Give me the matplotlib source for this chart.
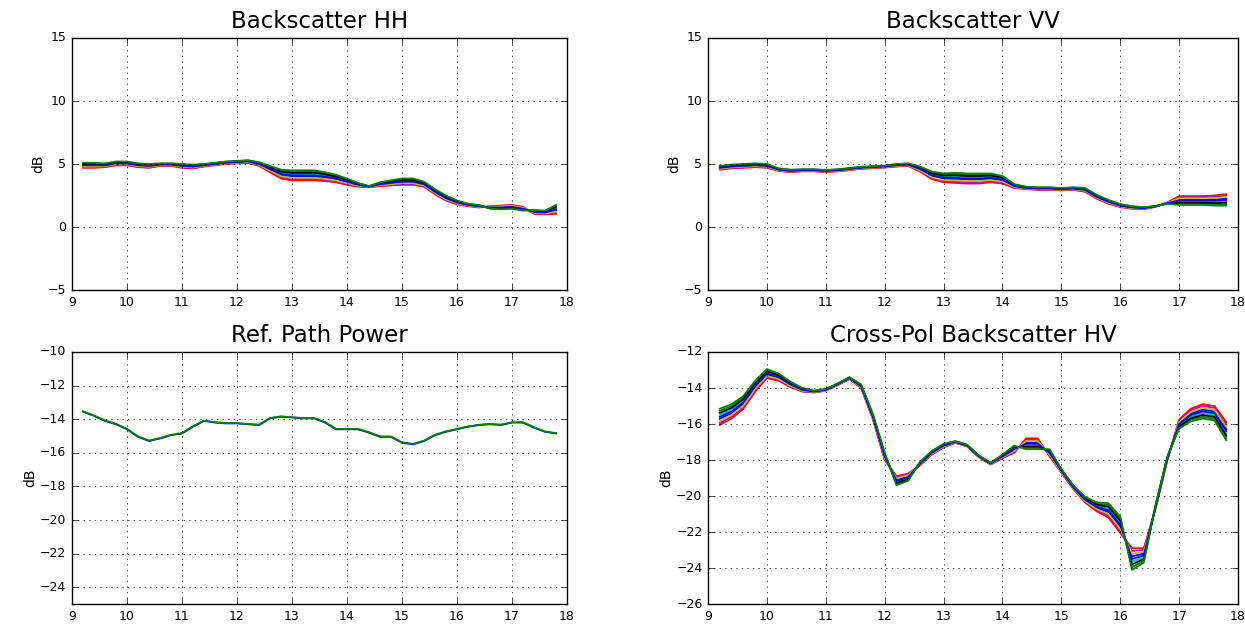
import matplotlib
matplotlib.use('Agg')
import matplotlib.pyplot as plt

# frequency axis (GHz)
freq = [9.2, 9.4, 9.6, 9.8, 10.0, 10.2, 10.4, 10.6, 10.8, 11.0,
        11.2, 11.4, 11.6, 11.8, 12.0, 12.2, 12.4, 12.6, 12.8, 13.0,
        13.2, 13.4, 13.6, 13.8, 14.0, 14.2, 14.4, 14.6, 14.8, 15.0,
        15.2, 15.4, 15.6, 15.8, 16.0, 16.2, 16.4, 16.6, 16.8, 17.0,
        17.2, 17.4, 17.6, 17.8]

# Backscatter HH (dB), one list per measurement
hh = [
    [4.85, 4.85, 4.86, 5.01, 5.01, 4.86, 4.81, 4.93, 4.93, 4.81, 4.76, 4.88, 4.98, 5.08, 5.13, 5.18, 4.96, 4.54, 4.11, 4.0,
     4.0, 4.0, 3.91, 3.78, 3.54, 3.31, 3.19, 3.36, 3.45, 3.54, 3.54, 3.35, 2.75, 2.25, 1.91, 1.73, 1.63, 1.58, 1.59, 1.64,
     1.49, 1.16, 1.11, 1.31],
    [5.05, 5.05, 5.01, 5.16, 5.16, 5.01, 4.96, 5.03, 5.03, 4.96, 4.91, 4.98, 5.08, 5.18, 5.23, 5.28, 5.11, 4.79, 4.46, 4.4,
     4.4, 4.4, 4.26, 4.08, 3.79, 3.46, 3.24, 3.51, 3.65, 3.79, 3.79, 3.55, 2.95, 2.45, 2.06, 1.83, 1.73, 1.48, 1.44, 1.49,
     1.34, 1.31, 1.26, 1.66],
    [4.7, 4.7, 4.75, 4.9, 4.9, 4.75, 4.7, 4.85, 4.85, 4.7, 4.65, 4.8, 4.9, 5.0, 5.05, 5.1, 4.85, 4.35, 3.85, 3.7,
     3.7, 3.7, 3.65, 3.55, 3.35, 3.2, 3.15, 3.25, 3.3, 3.35, 3.35, 3.2, 2.6, 2.1, 1.8, 1.65, 1.55, 1.65, 1.7, 1.75,
     1.6, 1.05, 1.0, 1.05],
    [4.95, 4.95, 4.94, 5.09, 5.09, 4.94, 4.89, 4.98, 4.98, 4.89, 4.84, 4.93, 5.03, 5.13, 5.18, 5.23, 5.04, 4.66, 4.29, 4.2,
     4.2, 4.2, 4.09, 3.93, 3.66, 3.39, 3.21, 3.44, 3.55, 3.66, 3.66, 3.45, 2.85, 2.35, 1.99, 1.78, 1.68, 1.53, 1.51, 1.56,
     1.41, 1.24, 1.19, 1.49],
    [4.75, 4.75, 4.79, 4.94, 4.94, 4.79, 4.74, 4.88, 4.88, 4.74, 4.69, 4.83, 4.93, 5.03, 5.08, 5.13, 4.89, 4.41, 3.94, 3.8,
     3.8, 3.8, 3.74, 3.63, 3.41, 3.24, 3.16, 3.29, 3.35, 3.41, 3.41, 3.25, 2.65, 2.15, 1.84, 1.68, 1.58, 1.63, 1.66, 1.71,
     1.56, 1.09, 1.04, 1.14],
    [4.8, 4.8, 4.83, 4.98, 4.98, 4.83, 4.78, 4.9, 4.9, 4.78, 4.73, 4.85, 4.95, 5.05, 5.1, 5.15, 4.93, 4.48, 4.03, 3.9,
     3.9, 3.9, 3.83, 3.7, 3.48, 3.28, 3.18, 3.33, 3.4, 3.48, 3.48, 3.3, 2.7, 2.2, 1.88, 1.7, 1.6, 1.6, 1.63, 1.68,
     1.53, 1.13, 1.08, 1.23],
    [5.0, 5.0, 4.98, 5.13, 5.13, 4.98, 4.93, 5.0, 5.0, 4.93, 4.88, 4.95, 5.05, 5.15, 5.2, 5.25, 5.08, 4.73, 4.38, 4.3,
     4.3, 4.3, 4.18, 4.0, 3.73, 3.43, 3.23, 3.48, 3.6, 3.73, 3.73, 3.5, 2.9, 2.4, 2.03, 1.8, 1.7, 1.5, 1.48, 1.53,
     1.38, 1.28, 1.23, 1.58],
    [4.9, 4.9, 4.9, 5.05, 5.05, 4.9, 4.85, 4.95, 4.95, 4.85, 4.8, 4.9, 5.0, 5.1, 5.15, 5.2, 5.0, 4.6, 4.2, 4.1,
     4.1, 4.1, 4.0, 3.85, 3.6, 3.35, 3.2, 3.4, 3.5, 3.6, 3.6, 3.4, 2.8, 2.3, 1.95, 1.75, 1.65, 1.55, 1.55, 1.6,
     1.45, 1.2, 1.15, 1.4],
    [5.1, 5.1, 5.05, 5.2, 5.2, 5.05, 5.0, 5.05, 5.05, 5.0, 4.95, 5.0, 5.1, 5.2, 5.25, 5.3, 5.15, 4.85, 4.55, 4.5,
     4.5, 4.5, 4.35, 4.15, 3.85, 3.5, 3.25, 3.55, 3.7, 3.85, 3.85, 3.6, 3.0, 2.5, 2.1, 1.85, 1.75, 1.45, 1.4, 1.45,
     1.3, 1.35, 1.3, 1.75],
]

# Backscatter VV (dB)
vv = [
    [4.66, 4.76, 4.81, 4.86, 4.81, 4.53, 4.43, 4.48, 4.48, 4.43, 4.48, 4.58, 4.68, 4.73, 4.78, 4.88, 4.93, 4.55, 4.03, 3.81,
     3.8, 3.75, 3.75, 3.81, 3.68, 3.21, 3.08, 3.03, 3.03, 2.98, 3.03, 2.91, 2.36, 1.96, 1.67, 1.53, 1.48, 1.63, 1.91, 2.19,
     2.19, 2.19, 2.2, 2.26],
    [4.81, 4.91, 4.96, 5.01, 4.96, 4.63, 4.53, 4.56, 4.56, 4.51, 4.56, 4.66, 4.76, 4.81, 4.86, 4.98, 5.03, 4.75, 4.33, 4.16,
     4.2, 4.15, 4.15, 4.16, 3.98, 3.36, 3.18, 3.13, 3.13, 3.08, 3.13, 3.06, 2.51, 2.11, 1.79, 1.63, 1.56, 1.66, 1.86, 1.84,
     1.84, 1.84, 1.8, 1.81],
    [4.55, 4.65, 4.7, 4.75, 4.7, 4.45, 4.35, 4.42, 4.42, 4.37, 4.42, 4.52, 4.62, 4.67, 4.72, 4.8, 4.85, 4.4, 3.8, 3.55,
     3.5, 3.45, 3.45, 3.55, 3.45, 3.1, 3.0, 2.95, 2.95, 2.9, 2.95, 2.8, 2.25, 1.85, 1.58, 1.45, 1.42, 1.6, 1.95, 2.45,
     2.45, 2.45, 2.5, 2.6],
    [4.74, 4.84, 4.89, 4.94, 4.89, 4.58, 4.48, 4.52, 4.52, 4.47, 4.52, 4.62, 4.72, 4.77, 4.82, 4.93, 4.98, 4.65, 4.18, 3.99,
     4.0, 3.95, 3.95, 3.99, 3.83, 3.29, 3.13, 3.08, 3.08, 3.03, 3.08, 2.99, 2.44, 2.04, 1.73, 1.58, 1.52, 1.65, 1.9, 2.01,
     2.01, 2.01, 2.0, 2.04],
    [4.59, 4.69, 4.74, 4.79, 4.74, 4.48, 4.38, 4.44, 4.44, 4.39, 4.44, 4.54, 4.64, 4.69, 4.74, 4.83, 4.88, 4.45, 3.88, 3.64,
     3.6, 3.55, 3.55, 3.64, 3.53, 3.14, 3.03, 2.98, 2.98, 2.93, 2.98, 2.84, 2.29, 1.89, 1.61, 1.48, 1.44, 1.62, 1.93, 2.36,
     2.36, 2.36, 2.4, 2.49],
    [4.63, 4.73, 4.78, 4.83, 4.78, 4.5, 4.4, 4.46, 4.46, 4.41, 4.46, 4.56, 4.66, 4.71, 4.76, 4.85, 4.9, 4.5, 3.95, 3.73,
     3.7, 3.65, 3.65, 3.73, 3.6, 3.18, 3.05, 3.0, 3.0, 2.95, 3.0, 2.88, 2.33, 1.93, 1.64, 1.5, 1.46, 1.63, 1.92, 2.28,
     2.28, 2.28, 2.3, 2.38],
    [4.78, 4.88, 4.93, 4.98, 4.93, 4.6, 4.5, 4.54, 4.54, 4.49, 4.54, 4.64, 4.74, 4.79, 4.84, 4.95, 5.0, 4.7, 4.25, 4.08,
     4.1, 4.05, 4.05, 4.08, 3.9, 3.33, 3.15, 3.1, 3.1, 3.05, 3.1, 3.03, 2.48, 2.08, 1.76, 1.6, 1.54, 1.65, 1.88, 1.93,
     1.93, 1.93, 1.9, 1.93],
    [4.7, 4.8, 4.85, 4.9, 4.85, 4.55, 4.45, 4.5, 4.5, 4.45, 4.5, 4.6, 4.7, 4.75, 4.8, 4.9, 4.95, 4.6, 4.1, 3.9,
     3.9, 3.85, 3.85, 3.9, 3.75, 3.25, 3.1, 3.05, 3.05, 3.0, 3.05, 2.95, 2.4, 2.0, 1.7, 1.55, 1.5, 1.64, 1.9, 2.1,
     2.1, 2.1, 2.1, 2.15],
    [4.85, 4.95, 5.0, 5.05, 5.0, 4.65, 4.55, 4.58, 4.58, 4.53, 4.58, 4.68, 4.78, 4.83, 4.88, 5.0, 5.05, 4.8, 4.4, 4.25,
     4.3, 4.25, 4.25, 4.25, 4.05, 3.4, 3.2, 3.15, 3.15, 3.1, 3.15, 3.1, 2.55, 2.15, 1.82, 1.65, 1.58, 1.66, 1.84, 1.75,
     1.75, 1.75, 1.7, 1.7],
]

# Ref. path power (dB)
ref = [
    [-13.55, -13.8, -14.1, -14.3, -14.6, -15.05, -15.3, -15.15, -14.95, -14.85, -14.45, -14.1, -14.2, -14.25, -14.25,
     -14.3, -14.35, -13.95, -13.85, -13.9, -13.95, -13.95, -14.2, -14.6, -14.6, -14.6, -14.8, -15.05, -15.05, -15.4,
     -15.5, -15.3, -14.95, -14.75, -14.6, -14.45, -14.35, -14.3, -14.35, -14.2, -14.2, -14.5, -14.75, -14.85],
    [-13.53, -13.78, -14.07, -14.28, -14.57, -15.02, -15.27, -15.12, -14.93, -14.82, -14.42, -14.08, -14.18, -14.22, -14.23,
     -14.28, -14.32, -13.93, -13.83, -13.88, -13.93, -13.93, -14.17, -14.57, -14.58, -14.57, -14.77, -15.02, -15.03, -15.37,
     -15.47, -15.28, -14.93, -14.72, -14.58, -14.43, -14.33, -14.28, -14.32, -14.18, -14.18, -14.47, -14.73, -14.83],
]

# Cross-pol backscatter HV (dB)
hv = [
    [-15.71, -15.4, -14.89, -13.98, -13.26, -13.45, -13.84, -14.13, -14.21, -14.11, -13.81, -13.46, -13.93, -15.64, -17.85,
     -19.09, -18.9, -18.23, -17.63, -17.23, -17.01, -17.21, -17.81, -18.21, -17.83, -17.45, -17.03, -17.03, -17.65, -18.63,
     -19.53, -20.24, -20.66, -20.9, -21.71, -23.35, -23.2, -20.63, -17.93, -15.94, -15.41, -15.2, -15.3, -16.28],
    [-15.26, -15.0, -14.54, -13.68, -13.01, -13.25, -13.69, -14.03, -14.16, -14.06, -13.76, -13.41, -13.83, -15.49, -17.65,
     -19.34, -19.1, -18.13, -17.53, -17.13, -16.96, -17.16, -17.76, -18.16, -17.73, -17.25, -17.33, -17.33, -17.45, -18.53,
     -19.43, -20.09, -20.41, -20.5, -21.26, -23.95, -23.6, -20.53, -17.83, -16.19, -15.76, -15.6, -15.7, -16.78],
    [-16.05, -15.7, -15.15, -14.2, -13.45, -13.6, -13.95, -14.2, -14.25, -14.15, -13.85, -13.5, -14.0, -15.75, -18.0,
     -18.9, -18.75, -18.3, -17.7, -17.3, -17.05, -17.25, -17.85, -18.25, -17.9, -17.6, -16.8, -16.8, -17.8, -18.7,
     -19.6, -20.35, -20.85, -21.2, -22.05, -22.9, -22.9, -20.7, -18.0, -15.75, -15.15, -14.9, -15.0, -15.9],
    [-15.49, -15.2, -14.71, -13.83, -13.14, -13.35, -13.76, -14.08, -14.19, -14.09, -13.79, -13.44, -13.88, -15.56, -17.75,
     -19.21, -19.0, -18.18, -17.58, -17.18, -16.99, -17.19, -17.79, -18.19, -17.78, -17.35, -17.18, -17.18, -17.55, -18.58,
     -19.48, -20.16, -20.54, -20.7, -21.49, -23.65, -23.4, -20.58, -17.88, -16.06, -15.59, -15.4, -15.5, -16.53],
    [-15.94, -15.6, -15.06, -14.13, -13.39, -13.55, -13.91, -14.18, -14.24, -14.14, -13.84, -13.49, -13.98, -15.71, -17.95,
     -18.96, -18.8, -18.28, -17.68, -17.28, -17.04, -17.24, -17.84, -18.24, -17.88, -17.55, -16.88, -16.88, -17.75, -18.68,
     -19.58, -20.31, -20.79, -21.1, -21.94, -23.05, -23.0, -20.68, -17.98, -15.81, -15.24, -15.0, -15.1, -16.03],
    [-15.83, -15.5, -14.98, -14.05, -13.33, -13.5, -13.88, -14.15, -14.23, -14.13, -13.83, -13.48, -13.95, -15.68, -17.9,
     -19.03, -18.85, -18.25, -17.65, -17.25, -17.03, -17.23, -17.83, -18.23, -17.85, -17.5, -16.95, -16.95, -17.7, -18.65,
     -19.55, -20.28, -20.73, -21.0, -21.83, -23.2, -23.1, -20.65, -17.95, -15.88, -15.33, -15.1, -15.2, -16.15],
    [-15.38, -15.1, -14.63, -13.75, -13.08, -13.3, -13.73, -14.05, -14.18, -14.08, -13.78, -13.43, -13.85, -15.53, -17.7,
     -19.28, -19.05, -18.15, -17.55, -17.15, -16.98, -17.18, -17.78, -18.18, -17.75, -17.3, -17.25, -17.25, -17.5, -18.55,
     -19.45, -20.13, -20.48, -20.6, -21.38, -23.8, -23.5, -20.55, -17.85, -16.13, -15.68, -15.5, -15.6, -16.65],
    [-15.6, -15.3, -14.8, -13.9, -13.2, -13.4, -13.8, -14.1, -14.2, -14.1, -13.8, -13.45, -13.9, -15.6, -17.8,
     -19.15, -18.95, -18.2, -17.6, -17.2, -17.0, -17.2, -17.8, -18.2, -17.8, -17.4, -17.1, -17.1, -17.6, -18.6,
     -19.5, -20.2, -20.6, -20.8, -21.6, -23.5, -23.3, -20.6, -17.9, -16.0, -15.5, -15.3, -15.4, -16.4],
    [-15.15, -14.9, -14.45, -13.6, -12.95, -13.2, -13.65, -14.0, -14.15, -14.05, -13.75, -13.4, -13.8, -15.45, -17.6,
     -19.4, -19.15, -18.1, -17.5, -17.1, -16.95, -17.15, -17.75, -18.15, -17.7, -17.2, -17.4, -17.4, -17.4, -18.5,
     -19.4, -20.05, -20.35, -20.4, -21.15, -24.1, -23.7, -20.5, -17.8, -16.25, -15.85, -15.7, -15.8, -16.9],
]

titles = ['Backscatter HH', 'Backscatter VV', 'Ref. Path Power', 'Cross-Pol Backscatter HV']
ylims = [(-5, 15), (-5, 15), (-25, -10), (-26, -12)]
yticks = [[-5, 0, 5, 10, 15], [-5, 0, 5, 10, 15],
          [-24, -22, -20, -18, -16, -14, -12, -10],
          [-26, -24, -22, -20, -18, -16, -14, -12]]
xticks = [9, 10, 11, 12, 13, 14, 15, 16, 17, 18]

plt.style.use('classic')
fig = plt.figure(figsize=(12.45, 6.26), dpi=100, facecolor='white')

# axes boxes [left, bottom, width, height] in figure fraction
boxes = [[0.0578, 0.5367, 0.3976, 0.4026],
         [0.5687, 0.5367, 0.4257, 0.4026],
         [0.0578, 0.0351, 0.3976, 0.4026],
         [0.5687, 0.0351, 0.4257, 0.4026]]

colors = ['b', 'g', 'r', 'c', 'm', 'y', 'k']

for box, data, title, yl, yt in zip(boxes, [hh, vv, ref, hv], titles, ylims, yticks):
    ax = fig.add_axes(box)
    for i, line in enumerate(data):
        ax.plot(freq, line, color=colors[i % 7], lw=1.3)
    ax.set_xlim(9, 18)
    ax.set_ylim(*yl)
    ax.set_xticks(xticks)
    ax.set_yticks(yt)
    ax.grid(True)
    ax.set_title(title, fontsize=16.5, pad=7)
    ax.set_ylabel('dB', fontsize=10, labelpad=2)
    ax.tick_params(labelsize=9)

fig.savefig('out.png', dpi=100, facecolor='white')
